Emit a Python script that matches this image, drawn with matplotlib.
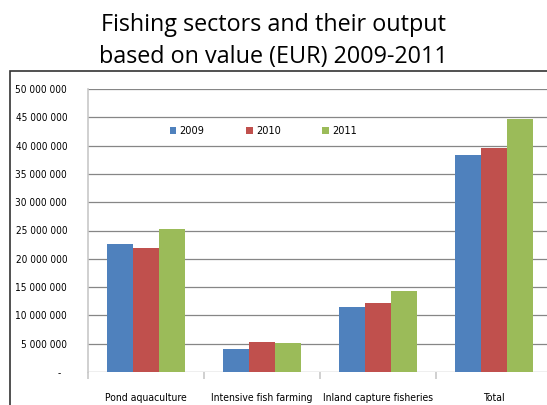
import matplotlib

matplotlib.use("Agg")
import matplotlib.pyplot as plt
from matplotlib.patches import Rectangle
import numpy as np

categories = ["Pond aquaculture", "Intensive fish farming", "Inland capture fisheries", "Total"]
years = ["2009", "2010", "2011"]
values_2009 = [22_600_000, 4_050_000, 11_500_000, 38_300_000]
values_2010 = [21_900_000, 5_300_000, 12_200_000, 39_600_000]
values_2011 = [25_300_000, 5_050_000, 14_300_000, 44_700_000]
colors = ["#4F81BD", "#C0504D", "#9BBB59"]
yticks = np.arange(0, 50_000_001, 5_000_000)

fig = plt.figure(figsize=(5.47, 4.05), dpi=100)

# slide frame around the chart
fig.patches.append(Rectangle((10 / 547, -0.1), 1.2, 1 - 71 / 405 + 0.1,
                             transform=fig.transFigure, fill=False,
                             edgecolor="#333333", linewidth=1.2))

fig.text(0.5, 0.967, "Fishing sectors and their output\nbased on value (EUR) 2009-2011",
         ha="center", va="top", fontsize=16.8, family=["Open Sans", "DejaVu Sans"],
         linespacing=1.4)

small = dict(family="DejaVu Sans", stretch="condensed")

ax = fig.add_axes([88 / 547, 1 - 372 / 405, (552 - 88) / 547, (372 - 89) / 405])
x = np.arange(len(categories))
w = 0.224
series = [values_2009, values_2010, values_2011]
for i, (vals, c, yr) in enumerate(zip(series, colors, years)):
    ax.bar(x + (i - 1) * w, vals, w, color=c, label=yr, zorder=3)

ax.set_xlim(-0.5, len(categories) - 0.5)
ax.set_ylim(0, 50_000_000)
ax.set_yticks(yticks)
ax.set_yticklabels(["-  "] + [f"{v:,}".replace(",", " ") for v in yticks[1:]],
                   fontsize=7.2, **small)
ax.tick_params(axis="y", length=0, pad=15)
ax.grid(axis="y", color="#868686", linewidth=0.9, zorder=0)

ax.set_xticks(np.arange(-0.5, len(categories), 1.0))
ax.set_xticklabels([])
ax.tick_params(axis="x", which="major", length=5, color="#C8C8C8", width=1.2)
ax.set_xticks(x, minor=True)
ax.set_xticklabels(categories, minor=True, fontsize=7.5, **small)
ax.tick_params(axis="x", which="minor", length=0, pad=15)

for s in ["top", "right", "bottom"]:
    ax.spines[s].set_visible(False)
ax.spines["left"].set_color("#C8C8C8")
ax.spines["left"].set_linewidth(1.2)

ax.legend(loc="upper left", bbox_to_anchor=(0.155, 0.903), ncol=3, frameon=False,
          handlelength=0.6, handleheight=0.6, handletextpad=0.3, columnspacing=3.85,
          prop={"family": "DejaVu Sans", "stretch": "condensed", "size": 7.8})

fig.savefig("out.png", dpi=100)
plt.close(fig)
